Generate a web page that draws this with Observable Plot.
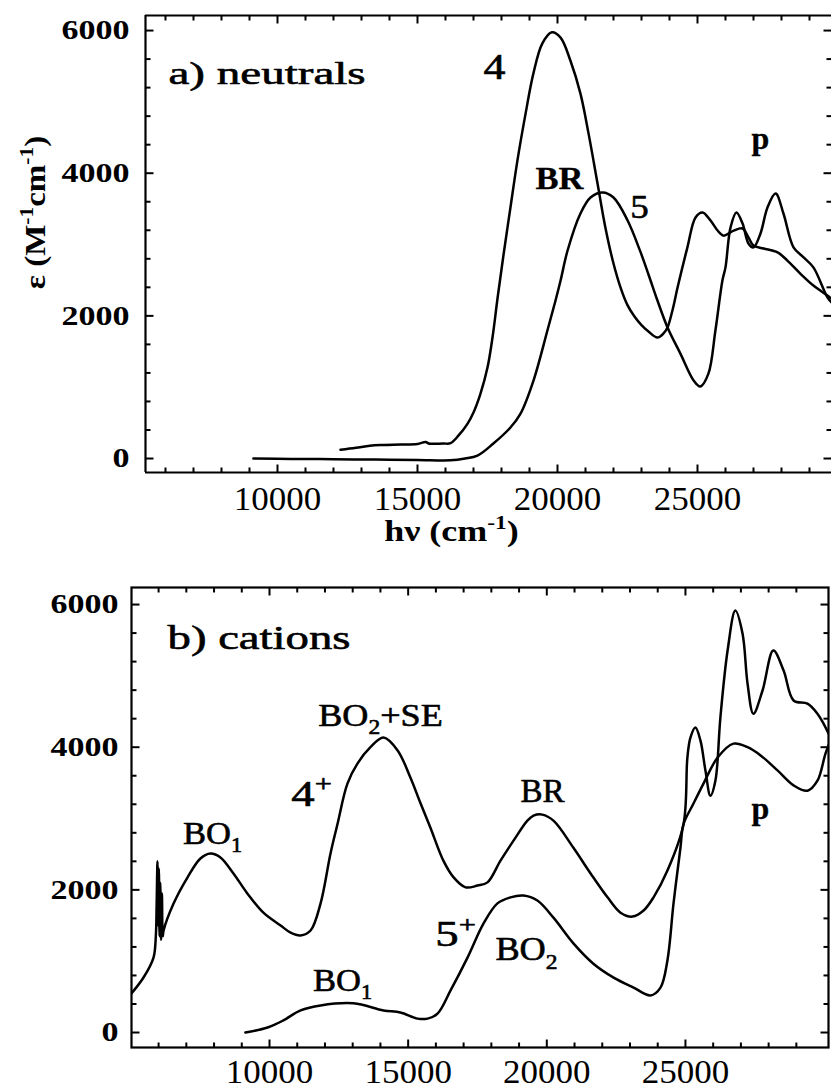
<!DOCTYPE html>
<html><head><meta charset="utf-8">
<script src="https://cdn.jsdelivr.net/npm/d3@7"></script>
<script src="https://cdn.jsdelivr.net/npm/@observablehq/plot@0.6"></script>
<style>body{margin:0;background:#fff} svg{display:block}</style>
</head><body><div id="chart"></div>
<script>
// ---------- DATA (energy in cm^-1, epsilon in M^-1 cm^-1) ----------
// Panel a) neutrals, compound 4
const n4Energy = [12250,12800,13300,13800,14400,15000,15290,15400,15500,15930,16180,16460,16790,17000,17250,17500,17680,17860,18070,18320,18570,18860,19140,19460,19800,20110,20460,20820,21110,21430,21710,22000,22250,22500,22750,23000,23250,23570,23800,23930,24120,24290,24640,24930,25180,25460,25710,25930,26290,26610,26820,27000,27360,27860,28210,28680,29140,29640,29786];
const n4Eps    = [122,150,180,190,196,205,230,210,208,210,215,320,490,645,910,1275,1700,2250,2850,3520,4180,4835,5400,5820,5975,5900,5580,5115,4555,3855,3240,2734,2400,2150,1990,1870,1780,1696,1760,1837,2100,2400,2960,3380,3450,3340,3200,3125,3195,3225,3100,2985,2945,2890,2775,2590,2425,2285,2240];
// Panel a) neutrals, compound 5
const n5Energy = [9140,10500,12000,13500,15000,16180,16700,17140,17710,18320,18680,19140,19640,19930,20110,20360,20820,21180,21610,22000,22500,22960,23250,23570,23930,24390,24860,25100,25390,25640,25890,26000,26180,26390,26610,26820,27000,27250,27500,27790,28070,28430,28790,29140,29640,29786];
const n5Eps    = [0,-5,-10,-15,-20,-25,0,40,210,435,630,1090,1795,2215,2495,2916,3435,3660,3730,3660,3340,2900,2580,2215,1837,1470,1095,1010,1190,1795,2495,2680,3240,3450,3295,3015,2960,3155,3520,3715,3435,2960,2820,2680,2260,2190];
// Panel b) cations, 4+
const c4Energy = [5020,5456,5817,5900,5930,5960,5985,6010,6035,6060,6090,6120,6150,6180,6540,7040,7510,7870,8230,8700,9200,9780,10400,10760,11120,11480,11840,12200,12450,12810,13170,13640,14110,14620,15080,15450,15800,16270,16640,17070,17500,17860,18330,18800,19300,19520,19840,20240,20960,21580,22190,22660,23090,23490,23850,24350,24930,25070,25180,25360,25540,25720,25900,26080,26260,26520,26800,27060,27240,27450,27780,28170,28540,28900,29400,29760,29980,30230];
const c4Eps    = [547,771,1051,1350,1800,2400,1500,2300,1350,2100,1300,1950,1350,1430,1808,2173,2440,2510,2455,2230,1950,1680,1500,1400,1360,1430,1808,2510,2920,3490,3770,4000,4135,3955,3575,3210,2875,2410,2175,2035,2060,2105,2410,2690,2970,3040,3055,2970,2590,2230,1895,1680,1625,1710,1895,2270,2920,3855,4135,4275,4095,3675,3320,3530,4415,5355,5915,5590,4890,4470,4795,5355,5075,4655,4610,4470,4330,4135];
// Panel b) cations, 5+
const c5Energy = [9130,9930,10500,11120,11840,13030,14110,14720,15340,15700,16060,16530,17140,17720,18220,18690,19160,19660,20240,20960,21680,22410,23130,23740,24100,24350,24570,24820,24930,25290,25650,26160,26730,27240,27710,28320,28900,29400,29760,30050,30230];
const c5Eps    = [0,70,170,310,380,410,310,280,195,195,265,590,1050,1530,1810,1895,1920,1850,1610,1250,965,770,630,520,630,1010,1810,2590,2920,3210,3490,3855,4050,4000,3885,3675,3465,3390,3530,3910,4095];

// Tick values / labels
const xTickLabels = [10000, 15000, 20000, 25000];
const yTickLabels = [0, 2000, 4000, 6000];
const xMinorTicks = d3.range(6000, 30000, 1000).filter(v => v % 5000 !== 0);
const yMinorTicks = d3.range(0, 6001, 400).filter(v => v % 2000 !== 0);

// Annotation texts and their anchor points (data units)
const labelsA = ["a) neutrals", "4", "BR", "5", "p"];
const labelsAX = [6107, 17750, 20070, 22930, 27250];
const labelsAY = [5400, 5489, 3928, 3527, 4480];
const labelsB = ["b) cations", "BO_{2}+SE", "4^{+}", "BO_{1}", "BO_{1}", "BR", "p", "5^{+}", "BO_{2}"];
const labelsBX = [6322, 14003, 11515, 7944, 12633, 19845, 27706, 16708, 19268];
const labelsBY = [5524, 4447, 3344, 2793, 732, 3373, 3135, 1374, 1158];
const yTitle = "ε (M^{-1}cm^{-1})";
const xTitle = "hν (cm^{-1})";

// ---------- helpers ----------
const SERIF = "'Liberation Serif','Times New Roman',serif";
const pts = (xs, ys) => xs.map((x, i) => ({x, y: ys[i]}));
const tickShape = {draw(ctx, l) { ctx.moveTo(0, 0); ctx.lineTo(0, -l); }};

function tickMarks() {
  const common = {shape: tickShape, anchor: "start", stroke: "black", strokeWidth: 2, strokeLinecap: "butt"};
  const out = [];
  for (const [ticks, len] of [[xTickLabels, 8], [xMinorTicks, 5]]) {
    out.push(Plot.vector(ticks, {x: d => d, frameAnchor: "bottom", rotate: 0, length: len, ...common}));
    out.push(Plot.vector(ticks, {x: d => d, frameAnchor: "top", rotate: 180, length: len, ...common}));
  }
  for (const [ticks, len] of [[yTickLabels, 8], [yMinorTicks, 5]]) {
    out.push(Plot.vector(ticks, {y: d => d, frameAnchor: "left", rotate: 90, length: len, ...common}));
    out.push(Plot.vector(ticks, {y: d => d, frameAnchor: "right", rotate: -90, length: len, ...common}));
  }
  return out;
}

function label(text, x, y, {fs = 32, bold = false, sx = 1, anchor = "middle"} = {}) {
  return Plot.text([text], {x: () => x, y: () => y, text: d => d, fontSize: fs, fontFamily: SERIF,
    fontWeight: bold ? "bold" : "normal", textAnchor: anchor, fill: "black",
    stroke: "black", strokeWidth: bold ? 0.3 : 0.6, ariaDescription: `sx=${sx}`});
}

function curve(xs, ys) {
  return Plot.line(pts(xs, ys), {x: "x", y: "y", curve: "catmull-rom", stroke: "black", strokeWidth: 2.5, clip: true});
}

function finish(svg) {
  const NS = "http://www.w3.org/2000/svg";
  svg.querySelectorAll("text").forEach(t => {
    const raw = t.textContent;
    if (!/[\^_]\{/.test(raw)) return;
    const fs = parseFloat(getComputedStyle(t).fontSize) || 16;
    while (t.firstChild) t.removeChild(t.firstChild);
    const re = /([\^_])\{([^}]*)\}|([^\^_]+)/g;
    let m, shift = 0;
    while ((m = re.exec(raw))) {
      const ts = document.createElementNS(NS, "tspan");
      let target = 0;
      if (m[1]) {
        target = m[1] === "^" ? -0.4 * fs : 0.25 * fs;
        ts.setAttribute("font-size", (0.65 * fs).toFixed(1));
        ts.textContent = m[2];
      } else ts.textContent = m[3];
      const d = target - shift;
      if (d) ts.setAttribute("dy", d.toFixed(2));
      shift = target;
      t.appendChild(ts);
    }
  });
  svg.querySelectorAll("text").forEach(t => {
    const host = t.closest("[aria-description]");
    if (!host) return;
    const mm = host.getAttribute("aria-description").match(/sx=([\d.]+)/);
    const s = mm ? parseFloat(mm[1]) : 1;
    if (!s || s === 1) return;
    const b = t.getBBox();
    const anchor = getComputedStyle(t).textAnchor;
    const ax = anchor === "end" ? b.x + b.width : anchor === "middle" ? b.x + b.width / 2 : b.x;
    const tr = t.getAttribute("transform") || "";
    t.setAttribute("transform", `${tr} translate(${ax},0) scale(${s},1) translate(${-ax},0)`);
  });
}

// ---------- panel a ----------
const xDomA = [5286, 29786], yDomA = [-196, 6211];
const panelA = Plot.plot({
  width: 831, height: 560,
  marginLeft: 145, marginRight: 0, marginTop: 15, marginBottom: 88,
  x: {domain: xDomA}, y: {domain: yDomA},
  style: {background: "white", color: "black", overflow: "visible"},
  marks: [
    Plot.ruleX([xDomA[0]], {stroke: "black", strokeWidth: 2.2}),
    Plot.ruleY([yDomA[0]], {stroke: "black", strokeWidth: 2.2}),
    Plot.ruleY([yDomA[1]], {stroke: "black", strokeWidth: 2.2}),
    ...tickMarks(),
    Plot.axisY(yTickLabels, {tickSize: 0, tickPadding: 16, tickFormat: d => String(d), fontSize: 27, fontWeight: "bold", fontFamily: SERIF, label: null, ariaDescription: "sx=1.26"}),
    Plot.axisX(xTickLabels, {tickSize: 0, tickPadding: 13, tickFormat: d => String(d), fontSize: 34, fontFamily: SERIF, label: null, ariaDescription: "sx=1.03"}),
    curve(n4Energy, n4Eps),
    curve(n5Energy, n5Eps),
    label(labelsA[0], labelsAX[0], labelsAY[0], {fs: 32, sx: 1.47, anchor: "start"}),
    label(labelsA[1], labelsAX[1], labelsAY[1], {fs: 36, sx: 1.22}),
    label(labelsA[2], labelsAX[2], labelsAY[2], {fs: 32, bold: true, sx: 1.08}),
    label(labelsA[3], labelsAX[3], labelsAY[3], {fs: 34, sx: 1.09}),
    label(labelsA[4], labelsAX[4], labelsAY[4], {fs: 32, bold: true}),
    Plot.text([yTitle], {x: () => xDomA[0], y: () => 3449, dx: -110, rotate: -90, text: d => d, fontSize: 30, fontWeight: "bold", fontFamily: SERIF, fill: "black", ariaDescription: "sx=1.1"}),
    Plot.text([xTitle], {x: () => 16214, frameAnchor: "bottom", dy: 68, text: d => d, fontSize: 30, fontWeight: "bold", fontFamily: SERIF, fill: "black", ariaDescription: "sx=1.2"})
  ]
});

// ---------- panel b ----------
const xDomB = [5023, 30159], yDomB = [-210, 6239];
const panelB = Plot.plot({
  width: 831, height: 532,
  marginLeft: 131, marginRight: 3, marginTop: 27, marginBottom: 45,
  x: {domain: xDomB}, y: {domain: yDomB},
  style: {background: "white", color: "black", overflow: "visible"},
  marks: [
    Plot.frame({stroke: "black", strokeWidth: 2.2}),
    ...tickMarks(),
    Plot.axisY(yTickLabels, {tickSize: 0, tickPadding: 13, tickFormat: d => String(d), fontSize: 27, fontWeight: "bold", fontFamily: SERIF, label: null, ariaDescription: "sx=1.26"}),
    Plot.axisX(xTickLabels, {tickSize: 0, tickPadding: 11, tickFormat: d => String(d), fontSize: 34, fontFamily: SERIF, label: null, ariaDescription: "sx=1.03"}),
    curve(c4Energy, c4Eps),
    curve(c5Energy, c5Eps),
    label(labelsB[0], labelsBX[0], labelsBY[0], {fs: 34, sx: 1.375, anchor: "start"}),
    label(labelsB[1], labelsBX[1], labelsBY[1], {fs: 32, sx: 1.13}),
    label(labelsB[2], labelsBX[2], labelsBY[2], {fs: 36, sx: 1.3}),
    label(labelsB[3], labelsBX[3], labelsBY[3], {fs: 32, sx: 1.08}),
    label(labelsB[4], labelsBX[4], labelsBY[4], {fs: 32, sx: 1.08}),
    label(labelsB[5], labelsBX[5], labelsBY[5], {fs: 33}),
    label(labelsB[6], labelsBX[6], labelsBY[6], {fs: 32, bold: true}),
    label(labelsB[7], labelsBX[7], labelsBY[7], {fs: 36, sx: 1.3}),
    label(labelsB[8], labelsBX[8], labelsBY[8], {fs: 33, sx: 1.1})
  ]
});

const root = document.getElementById("chart");
root.appendChild(panelA);
root.appendChild(panelB);
finish(panelA);
finish(panelB);
</script>
</body></html>
